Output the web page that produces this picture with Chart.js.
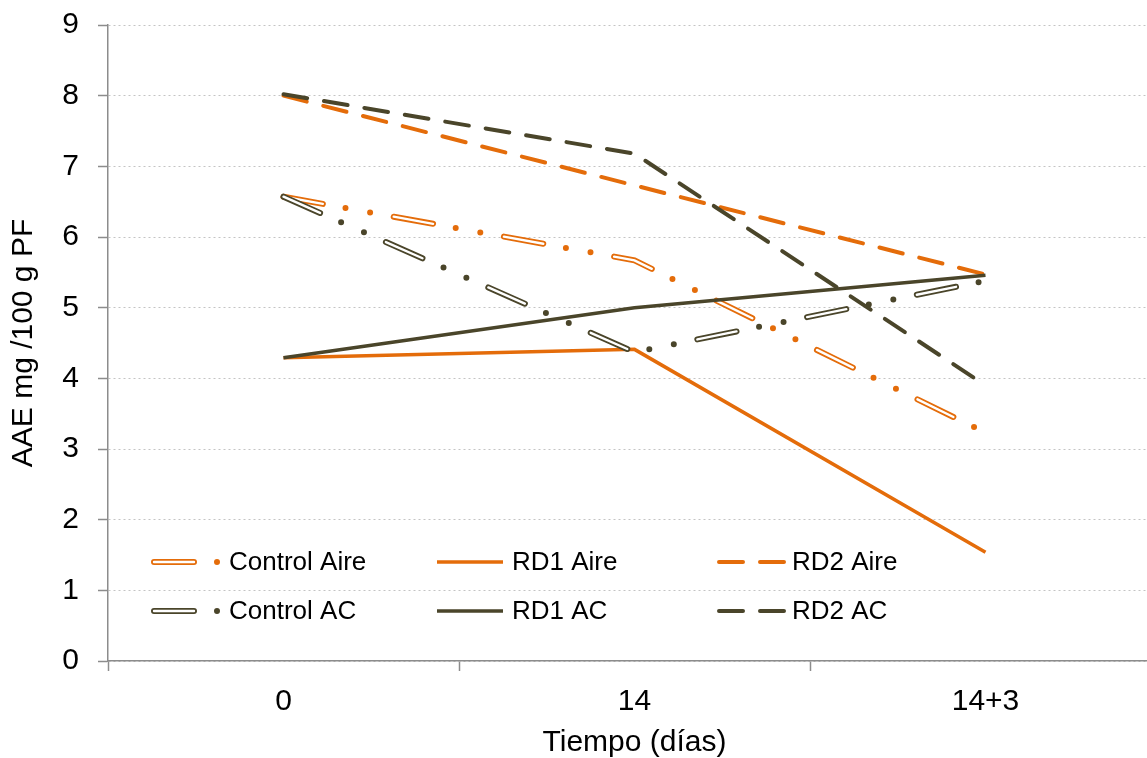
<!DOCTYPE html>
<html lang="es">
<head>
<meta charset="UTF-8">
<title>AAE - Tiempo (días)</title>
<script src="https://cdn.jsdelivr.net/npm/chart.js"></script>
<style>
  html, body { margin: 0; padding: 0; background: #fff; overflow: hidden; }
  #wrap { width: 1175px; height: 758px; position: relative; }
</style>
</head>
<body>
<div id="wrap"><canvas id="aaeChart"></canvas></div>
<script>
// datos
const dias = ['0', '14', '14+3'];
const controlAire = [6.57, 5.67, 3.23];
const rd1Aire = [4.29, 4.41, 1.54];
const rd2Aire = [8.00, 6.73, 5.47];
const controlAC = [6.57, 4.37, 5.38];
const rd1AC = [4.29, 5.00, 5.46];
const rd2AC = [8.02, 7.18, 3.90];

const naranja = '#E46C0A';
const oliva = '#4A452A';

// trazo "hueco" con punto-punto para los controles
const dashControl = [40, 23, 0, 25, 0, 24];
const dashHueco = [40, 72];
const dashRD2 = [24, 17];

Chart.defaults.font.family = "'Liberation Sans', Arial, sans-serif";
Chart.defaults.color = '#000';

function serie(label, data, color, extra) {
    return Object.assign({
        label: label,
        data: data,
        borderColor: color,
        backgroundColor: color,
        borderWidth: 3.5,
        pointRadius: 0,
        tension: 0,
        fill: false
    }, extra);
}

const datasets = [
    serie('Control Aire', controlAire, naranja, { borderWidth: 6, borderDash: dashControl, borderCapStyle: 'round', order: 12, leyenda: { x: 46, row: 0, tx: 121, len: 64 } }),
    serie('_hueco1', controlAire, '#fff', { borderWidth: 2.4, borderDash: dashHueco, borderCapStyle: 'round', order: 11 }),
    serie('RD1 Aire', rd1Aire, naranja, { order: 10, leyenda: { x: 329, row: 0, tx: 404, len: 66 } }),
    serie('RD2 Aire', rd2Aire, naranja, { borderWidth: 4, borderDash: dashRD2, borderCapStyle: 'round', order: 9, leyenda: { x: 611, row: 0, tx: 684, len: 67 } }),
    serie('Control AC', controlAC, oliva, { borderWidth: 6, borderDash: dashControl, borderCapStyle: 'round', order: 8, leyenda: { x: 46, row: 1, tx: 121, len: 64 } }),
    serie('_hueco2', controlAC, '#fff', { borderWidth: 2.4, borderDash: dashHueco, borderCapStyle: 'round', order: 7 }),
    serie('RD1 AC', rd1AC, oliva, { order: 6, leyenda: { x: 329, row: 1, tx: 404, len: 66 } }),
    serie('RD2 AC', rd2AC, oliva, { borderWidth: 4, borderDash: dashRD2, borderCapStyle: 'round', order: 5, leyenda: { x: 611, row: 1, tx: 684, len: 67 } })
];

// leyenda dibujada dentro del area del grafico
const leyendaInterna = {
    id: 'leyendaInterna',
    afterDatasetsDraw(chart) {
        const { ctx, chartArea } = chart;
        const filas = [chartArea.bottom - 99, chartArea.bottom - 50];
        chart.data.datasets.forEach((ds, i) => {
            if (!ds.leyenda) return;
            const l = ds.leyenda;
            const y = filas[l.row];
            const x0 = chartArea.left + l.x;
            ctx.save();
            ctx.strokeStyle = ds.borderColor;
            ctx.lineWidth = ds.borderWidth;
            ctx.lineCap = ds.borderCapStyle || 'butt';
            ctx.setLineDash(ds.borderDash || []);
            ctx.beginPath();
            ctx.moveTo(x0, y);
            ctx.lineTo(x0 + l.len, y);
            ctx.stroke();
            const hueco = chart.data.datasets[i + 1];
            if (hueco && hueco.label.startsWith('_')) {
                ctx.strokeStyle = hueco.borderColor;
                ctx.lineWidth = hueco.borderWidth;
                ctx.setLineDash(hueco.borderDash);
                ctx.beginPath();
                ctx.moveTo(x0, y);
                ctx.lineTo(x0 + l.len, y);
                ctx.stroke();
            }
            ctx.setLineDash([]);
            ctx.fillStyle = '#000';
            ctx.font = "26px 'Liberation Sans', Arial, sans-serif";
            ctx.textBaseline = 'middle';
            ctx.textAlign = 'left';
            ctx.fillText(ds.label, chartArea.left + l.tx, y + 1);
            ctx.restore();
        });
    }
};

const ctx = document.getElementById('aaeChart').getContext('2d');
new Chart(ctx, {
    type: 'line',
    data: { labels: dias, datasets: datasets },
    options: {
        responsive: true,
        maintainAspectRatio: false,
        animation: false,
        layout: { padding: { left: 0, top: 25, right: 14, bottom: 0 } },
        plugins: {
            legend: { display: false },
            tooltip: { enabled: false }
        },
        scales: {
            x: {
                offset: true,
                grid: {
                    offset: true,
                    drawOnChartArea: false,
                    drawTicks: true,
                    tickLength: 10,
                    tickColor: '#8c8c8c',
                    tickWidth: 1.5
                },
                border: { color: '#8c8c8c', width: 1.5 },
                ticks: { font: { size: 30 }, padding: 13, maxRotation: 0 },
                title: { display: true, text: 'Tiempo (días)', font: { size: 30 }, padding: { top: 0, bottom: -3 } },
                afterFit: (s) => { s.height = 97; }
            },
            y: {
                min: 0,
                max: 9,
                ticks: { stepSize: 1, font: { size: 30 }, padding: 19 },
                grid: {
                    color: '#c4c4c4',
                    lineWidth: 1,
                    tickLength: 10,
                    tickColor: '#8c8c8c',
                    tickWidth: 1.5,
                    tickBorderDash: [1, 0]
                },
                border: { color: '#8c8c8c', width: 1.5, dash: [2, 3] },
                title: { display: true, text: 'AAE mg /100 g PF', font: { size: 30 }, padding: { top: 6, bottom: 0 } },
                afterFit: (s) => { s.width = 108; s.paddingTop = 0; s.paddingBottom = 0; }
            }
        }
    },
    plugins: [leyendaInterna]
});
</script>
</body>
</html>
